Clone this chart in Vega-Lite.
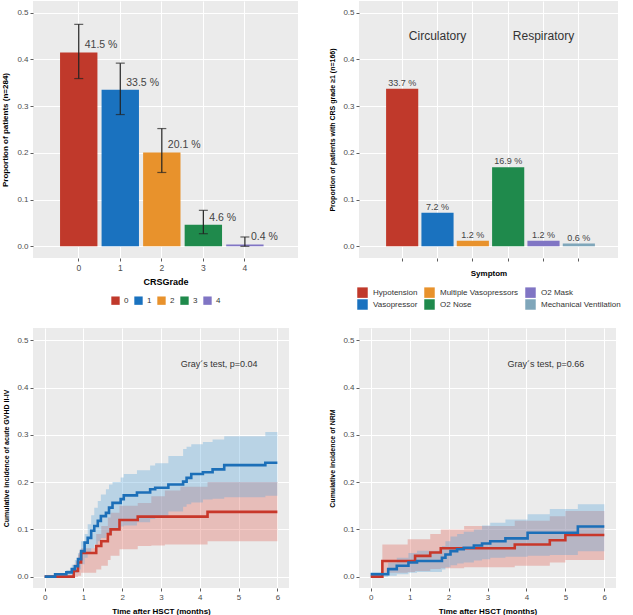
{
  "$schema": "https://vega.github.io/schema/vega-lite/v6.json",
  "padding": {"left": 1, "top": 1, "right": 4, "bottom": 0},
  "columns": 2,
  "spacing": {"row": 18, "column": 30},
  "resolve": {"scale": {"x": "independent", "y": "independent", "color": "independent"}, "legend": {"color": "independent"}},
  "config": {
    "font": "Liberation Sans",
    "view": {"fill": "#EBEBEB", "stroke": null},
    "axis": {"domain": false, "gridColor": "#FFFFFF", "tickColor": "#333333", "tickSize": 3, "tickWidth": 0.8, "labelColor": "#4D4D4D", "labelFontSize": 8, "labelPadding": 2, "titleFontSize": 8, "titleFontWeight": "bold", "titleColor": "#000000", "labelFont": "Liberation Sans", "titleFont": "Liberation Sans"},
    "legend": {"labelFont": "Liberation Sans", "labelFontSize": 8, "labelColor": "#333333", "symbolType": "square", "symbolStrokeWidth": 0, "layout": {"bottom": {"anchor": "middle"}}}
  },
  "datasets": {
    "grade": [
      {"CRSGrade": "0", "p": 0.415, "lo": 0.359, "hi": 0.475, "label": "41.5 %"},
      {"CRSGrade": "1", "p": 0.335, "lo": 0.282, "hi": 0.392, "label": "33.5 %"},
      {"CRSGrade": "2", "p": 0.201, "lo": 0.158, "hi": 0.252, "label": "20.1 %"},
      {"CRSGrade": "3", "p": 0.046, "lo": 0.027, "hi": 0.077, "label": "4.6 %"},
      {"CRSGrade": "4", "p": 0.004, "lo": 0.0, "hi": 0.02, "label": "0.4 %"}
    ],
    "symptom": [
      {"Symptom": "Hypotension", "p": 0.337, "label": "33.7 %"},
      {"Symptom": "Vasopressor", "p": 0.072, "label": "7.2 %"},
      {"Symptom": "Multiple Vasopressors", "p": 0.012, "label": "1.2 %"},
      {"Symptom": "O2 Nose", "p": 0.169, "label": "16.9 %"},
      {"Symptom": "O2 Mask", "p": 0.012, "label": "1.2 %"},
      {"Symptom": "Mechanical Ventilation", "p": 0.006, "label": "0.6 %"}
    ],
    "symptomGroups": [
      {"Symptom": "Vasopressor", "y": 0.45, "text": "Circulatory"},
      {"Symptom": "O2 Mask", "y": 0.45, "text": "Respiratory"}
    ],
    "gvhd": [
      {"grp": "CRS grade 0", "t": 0, "est": 0, "lo": 0, "hi": 0},
      {"grp": "CRS grade 0", "t": 0.75, "est": 0.012, "lo": 0.0, "hi": 0.026},
      {"grp": "CRS grade 0", "t": 0.86, "est": 0.03, "lo": 0.002, "hi": 0.047},
      {"grp": "CRS grade 0", "t": 0.94, "est": 0.05, "lo": 0.008, "hi": 0.06},
      {"grp": "CRS grade 0", "t": 1.33, "est": 0.065, "lo": 0.015, "hi": 0.09},
      {"grp": "CRS grade 0", "t": 1.46, "est": 0.075, "lo": 0.023, "hi": 0.107},
      {"grp": "CRS grade 0", "t": 1.63, "est": 0.09, "lo": 0.035, "hi": 0.125},
      {"grp": "CRS grade 0", "t": 1.7, "est": 0.1, "lo": 0.044, "hi": 0.135},
      {"grp": "CRS grade 0", "t": 1.93, "est": 0.12, "lo": 0.058, "hi": 0.15},
      {"grp": "CRS grade 0", "t": 2.4, "est": 0.127, "lo": 0.065, "hi": 0.156},
      {"grp": "CRS grade 0", "t": 2.75, "est": 0.127, "lo": 0.066, "hi": 0.17},
      {"grp": "CRS grade 0", "t": 3.1, "est": 0.127, "lo": 0.068, "hi": 0.182},
      {"grp": "CRS grade 0", "t": 3.5, "est": 0.127, "lo": 0.068, "hi": 0.19},
      {"grp": "CRS grade 0", "t": 4.2, "est": 0.137, "lo": 0.075, "hi": 0.2},
      {"grp": "CRS grade 0", "t": 6.0, "est": 0.137, "lo": 0.075, "hi": 0.2},
      {"grp": "CRS grade ≥1", "t": 0, "est": 0, "lo": 0, "hi": 0},
      {"grp": "CRS grade ≥1", "t": 0.27, "est": 0.005, "lo": 0, "hi": 0.006},
      {"grp": "CRS grade ≥1", "t": 0.56, "est": 0.009, "lo": 0, "hi": 0.014},
      {"grp": "CRS grade ≥1", "t": 0.7, "est": 0.016, "lo": 0.002, "hi": 0.025},
      {"grp": "CRS grade ≥1", "t": 0.78, "est": 0.022, "lo": 0.008, "hi": 0.035},
      {"grp": "CRS grade ≥1", "t": 0.86, "est": 0.037, "lo": 0.015, "hi": 0.05},
      {"grp": "CRS grade ≥1", "t": 0.94, "est": 0.054, "lo": 0.026, "hi": 0.075},
      {"grp": "CRS grade ≥1", "t": 1.03, "est": 0.072, "lo": 0.04, "hi": 0.09},
      {"grp": "CRS grade ≥1", "t": 1.11, "est": 0.082, "lo": 0.051, "hi": 0.111},
      {"grp": "CRS grade ≥1", "t": 1.2, "est": 0.097, "lo": 0.06, "hi": 0.13},
      {"grp": "CRS grade ≥1", "t": 1.28, "est": 0.107, "lo": 0.068, "hi": 0.146},
      {"grp": "CRS grade ≥1", "t": 1.37, "est": 0.118, "lo": 0.075, "hi": 0.16},
      {"grp": "CRS grade ≥1", "t": 1.45, "est": 0.128, "lo": 0.082, "hi": 0.174},
      {"grp": "CRS grade ≥1", "t": 1.58, "est": 0.135, "lo": 0.09, "hi": 0.185},
      {"grp": "CRS grade ≥1", "t": 1.66, "est": 0.146, "lo": 0.094, "hi": 0.195},
      {"grp": "CRS grade ≥1", "t": 1.75, "est": 0.156, "lo": 0.1, "hi": 0.2},
      {"grp": "CRS grade ≥1", "t": 1.96, "est": 0.164, "lo": 0.106, "hi": 0.21},
      {"grp": "CRS grade ≥1", "t": 2.04, "est": 0.172, "lo": 0.108, "hi": 0.217},
      {"grp": "CRS grade ≥1", "t": 2.38, "est": 0.178, "lo": 0.115, "hi": 0.225},
      {"grp": "CRS grade ≥1", "t": 2.72, "est": 0.185, "lo": 0.122, "hi": 0.235},
      {"grp": "CRS grade ≥1", "t": 2.85, "est": 0.188, "lo": 0.128, "hi": 0.24},
      {"grp": "CRS grade ≥1", "t": 3.19, "est": 0.195, "lo": 0.138, "hi": 0.255},
      {"grp": "CRS grade ≥1", "t": 3.57, "est": 0.201, "lo": 0.148, "hi": 0.27},
      {"grp": "CRS grade ≥1", "t": 3.66, "est": 0.209, "lo": 0.153, "hi": 0.275},
      {"grp": "CRS grade ≥1", "t": 3.78, "est": 0.217, "lo": 0.157, "hi": 0.28},
      {"grp": "CRS grade ≥1", "t": 4.08, "est": 0.221, "lo": 0.163, "hi": 0.285},
      {"grp": "CRS grade ≥1", "t": 4.33, "est": 0.227, "lo": 0.165, "hi": 0.29},
      {"grp": "CRS grade ≥1", "t": 4.63, "est": 0.236, "lo": 0.168, "hi": 0.297},
      {"grp": "CRS grade ≥1", "t": 5.69, "est": 0.241, "lo": 0.171, "hi": 0.306},
      {"grp": "CRS grade ≥1", "t": 6.0, "est": 0.241, "lo": 0.171, "hi": 0.306}
    ],
    "nrm": [
      {"grp": "CRS grade 0", "t": 0, "est": 0, "lo": 0, "hi": 0},
      {"grp": "CRS grade 0", "t": 0.3, "est": 0.033, "lo": 0.008, "hi": 0.068},
      {"grp": "CRS grade 0", "t": 0.95, "est": 0.033, "lo": 0.01, "hi": 0.079},
      {"grp": "CRS grade 0", "t": 1.14, "est": 0.044, "lo": 0.012, "hi": 0.079},
      {"grp": "CRS grade 0", "t": 1.53, "est": 0.051, "lo": 0.016, "hi": 0.09},
      {"grp": "CRS grade 0", "t": 1.8, "est": 0.06, "lo": 0.018, "hi": 0.1},
      {"grp": "CRS grade 0", "t": 2.4, "est": 0.06, "lo": 0.02, "hi": 0.107},
      {"grp": "CRS grade 0", "t": 3.7, "est": 0.068, "lo": 0.023, "hi": 0.118},
      {"grp": "CRS grade 0", "t": 4.6, "est": 0.077, "lo": 0.03, "hi": 0.128},
      {"grp": "CRS grade 0", "t": 5.0, "est": 0.088, "lo": 0.035, "hi": 0.139},
      {"grp": "CRS grade 0", "t": 6.0, "est": 0.088, "lo": 0.035, "hi": 0.139},
      {"grp": "CRS grade ≥1", "t": 0, "est": 0.005, "lo": 0, "hi": 0.01},
      {"grp": "CRS grade ≥1", "t": 0.45, "est": 0.016, "lo": 0.002, "hi": 0.03},
      {"grp": "CRS grade ≥1", "t": 0.67, "est": 0.023, "lo": 0.005, "hi": 0.04},
      {"grp": "CRS grade ≥1", "t": 0.97, "est": 0.03, "lo": 0.008, "hi": 0.05},
      {"grp": "CRS grade ≥1", "t": 1.19, "est": 0.033, "lo": 0.01, "hi": 0.055},
      {"grp": "CRS grade ≥1", "t": 1.83, "est": 0.04, "lo": 0.015, "hi": 0.065},
      {"grp": "CRS grade ≥1", "t": 1.92, "est": 0.047, "lo": 0.02, "hi": 0.075},
      {"grp": "CRS grade ≥1", "t": 2.05, "est": 0.054, "lo": 0.024, "hi": 0.085},
      {"grp": "CRS grade ≥1", "t": 2.22, "est": 0.058, "lo": 0.028, "hi": 0.09},
      {"grp": "CRS grade ≥1", "t": 2.39, "est": 0.061, "lo": 0.03, "hi": 0.095},
      {"grp": "CRS grade ≥1", "t": 2.65, "est": 0.066, "lo": 0.034, "hi": 0.1},
      {"grp": "CRS grade ≥1", "t": 2.86, "est": 0.07, "lo": 0.037, "hi": 0.108},
      {"grp": "CRS grade ≥1", "t": 3.07, "est": 0.075, "lo": 0.04, "hi": 0.114},
      {"grp": "CRS grade ≥1", "t": 3.46, "est": 0.081, "lo": 0.042, "hi": 0.121},
      {"grp": "CRS grade ≥1", "t": 4.03, "est": 0.093, "lo": 0.044, "hi": 0.132},
      {"grp": "CRS grade ≥1", "t": 4.6, "est": 0.093, "lo": 0.046, "hi": 0.143},
      {"grp": "CRS grade ≥1", "t": 5.32, "est": 0.106, "lo": 0.054, "hi": 0.153},
      {"grp": "CRS grade ≥1", "t": 6.0, "est": 0.106, "lo": 0.054, "hi": 0.153}
    ],
    "gvhdNote": [{"t": 4.5, "y": 0.45, "text": "Gray´s test, p=0.04"}],
    "nrmNote": [{"t": 4.5, "y": 0.45, "text": "Gray´s test, p=0.66"}]
  },
  "concat": [
    {
      "width": 265, "height": 257,
      "data": {"name": "grade"},
      "encoding": {
        "x": {"field": "CRSGrade", "type": "nominal", "scale": {"domain": ["0", "1", "2", "3", "4"], "paddingInner": 0.1, "paddingOuter": 0.74, "align": 0.44},
              "axis": {"labelAngle": 0, "title": "CRSGrade", "grid": true, "gridWidth": 1, "labelFontSize": 8.5, "titleFontSize": 9, "titlePadding": 6}}
      },
      "layer": [
        {
          "mark": {"type": "bar"},
          "encoding": {
            "y": {"field": "p", "type": "quantitative", "scale": {"domain": [-0.025, 0.525], "nice": false, "zero": false},
                  "axis": {"values": [0, 0.05, 0.1, 0.15, 0.2, 0.25, 0.3, 0.35, 0.4, 0.45, 0.5], "title": "Proportion of patients (n=284)", "titlePadding": 7,
                           "labelExpr": "round(datum.value*100) % 10 == 0 ? format(datum.value, '.1f') : ''",
                           "gridWidth": {"condition": {"test": "round(datum.value*100) % 10 == 0", "value": 1}, "value": 0.5},
                           "tickOpacity": {"condition": {"test": "round(datum.value*100) % 10 == 0", "value": 1}, "value": 0}}},
            "color": {"field": "CRSGrade", "type": "nominal",
                      "scale": {"domain": ["0", "1", "2", "3", "4"], "range": ["#C0392B", "#1A72BF", "#E8922C", "#1F8A4C", "#8075C4"]},
                      "legend": {"orient": "bottom", "direction": "horizontal", "title": null, "symbolSize": 70, "columnPadding": 5, "labelOffset": 4, "offset": 9}}
          }
        },
        {"mark": {"type": "rule", "color": "#222222", "strokeWidth": 1.2},
         "encoding": {"y": {"field": "lo", "type": "quantitative"}, "y2": {"field": "hi"}}},
        {"mark": {"type": "tick", "color": "#222222", "size": 9, "thickness": 1.2},
         "encoding": {"y": {"field": "lo", "type": "quantitative"}}},
        {"mark": {"type": "tick", "color": "#222222", "size": 9, "thickness": 1.2},
         "encoding": {"y": {"field": "hi", "type": "quantitative"}}},
        {"mark": {"type": "text", "align": "left", "baseline": "bottom", "dx": 6, "dy": -2, "fontSize": 10.5, "color": "#444444"},
         "encoding": {"y": {"field": "p", "type": "quantitative"}, "text": {"field": "label"}}}
      ]
    },
    {
      "width": 259, "height": 257,
      "data": {"name": "symptom"},
      "encoding": {
        "x": {"field": "Symptom", "type": "nominal",
              "scale": {"domain": ["Hypotension", "Vasopressor", "Multiple Vasopressors", "O2 Nose", "O2 Mask", "Mechanical Ventilation"], "paddingInner": 0.09, "paddingOuter": 0.71, "align": 0.54},
              "axis": {"labels": false, "title": "Symptom", "grid": true, "gridWidth": 1, "titlePadding": 8}}
      },
      "layer": [
        {
          "mark": {"type": "bar"},
          "encoding": {
            "y": {"field": "p", "type": "quantitative", "scale": {"domain": [-0.025, 0.525], "nice": false, "zero": false},
                  "axis": {"values": [0, 0.05, 0.1, 0.15, 0.2, 0.25, 0.3, 0.35, 0.4, 0.45, 0.5], "title": "Proportion of patients with CRS grade ≥1 (n=166)", "titlePadding": 7, "titleFontSize": 7,
                           "labelExpr": "round(datum.value*100) % 10 == 0 ? format(datum.value, '.1f') : ''",
                           "gridWidth": {"condition": {"test": "round(datum.value*100) % 10 == 0", "value": 1}, "value": 0.5},
                           "tickOpacity": {"condition": {"test": "round(datum.value*100) % 10 == 0", "value": 1}, "value": 0}}},
            "color": {"field": "Symptom", "type": "nominal",
                      "scale": {"domain": ["Hypotension", "Multiple Vasopressors", "O2 Mask", "Vasopressor", "O2 Nose", "Mechanical Ventilation"],
                                "range": ["#C0392B", "#E8922C", "#8075C4", "#1A72BF", "#1F8A4C", "#7FA6BA"]},
                      "legend": {"orient": "bottom", "direction": "horizontal", "columns": 3, "title": null, "symbolSize": 110, "columnPadding": 6, "rowPadding": 1, "labelOffset": 5, "offset": 9}}
          }
        },
        {"mark": {"type": "text", "baseline": "bottom", "dy": -1, "fontSize": 9, "color": "#444444"},
         "encoding": {"y": {"field": "p", "type": "quantitative"}, "text": {"field": "label"}}},
        {"data": {"name": "symptomGroups"},
         "mark": {"type": "text", "baseline": "middle", "fontSize": 12, "color": "#333333"},
         "encoding": {"y": {"field": "y", "type": "quantitative"}, "text": {"field": "text"}}}
      ]
    },
    {
      "width": 256, "height": 260,
      "layer": [
        {"data": {"name": "gvhd"},
         "mark": {"type": "area", "interpolate": "step-after", "fillOpacity": 0.35},
         "encoding": {
           "x": {"field": "t", "type": "quantitative", "scale": {"domain": [-0.3, 6.3], "nice": false, "zero": false},
                 "axis": {"values": [0, 0.5, 1, 1.5, 2, 2.5, 3, 3.5, 4, 4.5, 5, 5.5, 6], "title": "Time after HSCT (months)", "titlePadding": 6,
                          "labelExpr": "datum.value % 1 == 0 ? format(datum.value, 'd') : ''",
                          "gridWidth": {"condition": {"test": "datum.value % 1 == 0", "value": 1}, "value": 0.5},
                          "tickOpacity": {"condition": {"test": "datum.value % 1 == 0", "value": 1}, "value": 0}}},
           "y": {"field": "lo", "type": "quantitative", "scale": {"domain": [-0.024, 0.526], "nice": false, "zero": false},
                 "axis": {"values": [0, 0.05, 0.1, 0.15, 0.2, 0.25, 0.3, 0.35, 0.4, 0.45, 0.5], "title": "Cumulative incidence of acute GVHD II-IV", "titlePadding": 7, "titleFontSize": 7,
                          "labelExpr": "round(datum.value*100) % 10 == 0 ? format(datum.value, '.1f') : ''",
                          "gridWidth": {"condition": {"test": "round(datum.value*100) % 10 == 0", "value": 1}, "value": 0.5},
                          "tickOpacity": {"condition": {"test": "round(datum.value*100) % 10 == 0", "value": 1}, "value": 0}}},
           "y2": {"field": "hi"},
           "fill": {"field": "grp", "type": "nominal", "scale": {"domain": ["CRS grade ≥1", "CRS grade 0"], "range": ["#5DA5DA", "#E0675C"]}, "legend": null}
         }},
        {"data": {"name": "gvhd"},
         "mark": {"type": "line", "interpolate": "step-after", "strokeWidth": 2.6},
         "encoding": {
           "x": {"field": "t", "type": "quantitative"},
           "y": {"field": "est", "type": "quantitative"},
           "stroke": {"field": "grp", "type": "nominal", "sort": ["CRS grade 0", "CRS grade ≥1"], "scale": {"domain": ["CRS grade 0", "CRS grade ≥1"], "range": ["#C8372A", "#1C6FB8"]}, "legend": null}
         }},
        {"data": {"name": "gvhdNote"},
         "mark": {"type": "text", "fontSize": 9, "color": "#333333"},
         "encoding": {"x": {"field": "t", "type": "quantitative"}, "y": {"field": "y", "type": "quantitative"}, "text": {"field": "text"}}}
      ]
    },
    {
      "width": 257, "height": 260,
      "layer": [
        {"data": {"name": "nrm"},
         "mark": {"type": "area", "interpolate": "step-after", "fillOpacity": 0.35},
         "encoding": {
           "x": {"field": "t", "type": "quantitative", "scale": {"domain": [-0.3, 6.3], "nice": false, "zero": false},
                 "axis": {"values": [0, 0.5, 1, 1.5, 2, 2.5, 3, 3.5, 4, 4.5, 5, 5.5, 6], "title": "Time after HSCT (months)", "titlePadding": 6,
                          "labelExpr": "datum.value % 1 == 0 ? format(datum.value, 'd') : ''",
                          "gridWidth": {"condition": {"test": "datum.value % 1 == 0", "value": 1}, "value": 0.5},
                          "tickOpacity": {"condition": {"test": "datum.value % 1 == 0", "value": 1}, "value": 0}}},
           "y": {"field": "lo", "type": "quantitative", "scale": {"domain": [-0.024, 0.526], "nice": false, "zero": false},
                 "axis": {"values": [0, 0.05, 0.1, 0.15, 0.2, 0.25, 0.3, 0.35, 0.4, 0.45, 0.5], "title": "Cumulative incidence of NRM", "titlePadding": 7, "titleFontSize": 7,
                          "labelExpr": "round(datum.value*100) % 10 == 0 ? format(datum.value, '.1f') : ''",
                          "gridWidth": {"condition": {"test": "round(datum.value*100) % 10 == 0", "value": 1}, "value": 0.5},
                          "tickOpacity": {"condition": {"test": "round(datum.value*100) % 10 == 0", "value": 1}, "value": 0}}},
           "y2": {"field": "hi"},
           "fill": {"field": "grp", "type": "nominal", "scale": {"domain": ["CRS grade ≥1", "CRS grade 0"], "range": ["#5DA5DA", "#E0675C"]}, "legend": null}
         }},
        {"data": {"name": "nrm"},
         "mark": {"type": "line", "interpolate": "step-after", "strokeWidth": 2.6},
         "encoding": {
           "x": {"field": "t", "type": "quantitative"},
           "y": {"field": "est", "type": "quantitative"},
           "stroke": {"field": "grp", "type": "nominal", "sort": ["CRS grade 0", "CRS grade ≥1"], "scale": {"domain": ["CRS grade 0", "CRS grade ≥1"], "range": ["#C8372A", "#1C6FB8"]}, "legend": null}
         }},
        {"data": {"name": "nrmNote"},
         "mark": {"type": "text", "fontSize": 9, "color": "#333333"},
         "encoding": {"x": {"field": "t", "type": "quantitative"}, "y": {"field": "y", "type": "quantitative"}, "text": {"field": "text"}}}
      ]
    }
  ]
}
